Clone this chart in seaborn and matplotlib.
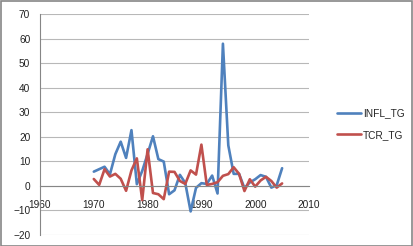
import matplotlib
matplotlib.use("Agg")
import matplotlib.pyplot as plt
import seaborn as sns
import pandas as pd
from matplotlib.patches import Rectangle
from matplotlib.lines import Line2D

years = list(range(1970, 2006))
infl_tg = [5.8, 6.8, 7.8, 4.7, 12.9, 18.0, 11.4, 22.7, 0.7, 6.1,
           13.0, 20.2, 10.9, 9.9, -3.4, -1.8, 4.5, 1.2, -10.4, -0.8,
           1.1, 0.8, 4.2, -3.1, 57.9, 16.5, 4.9, 4.9, -0.9, 1.4,
           2.7, 4.4, 3.7, -0.7, 0.3, 7.2]
tcr_tg = [2.8, 0.4, 6.8, 3.8, 4.9, 2.9, -2.0, 6.3, 11.2, -5.8,
          14.9, -2.9, -3.4, -5.4, 5.8, 5.7, 2.0, 0.8, 6.3, 4.6,
          16.8, 0.4, 0.8, 1.5, 4.1, 4.8, 7.6, 4.9, -2.1, 2.7,
          -0.3, 2.2, 3.7, 2.0, -0.7, 1.0]
series_names = ["INFL_TG", "TCR_TG"]
colors = ["#4F81BD", "#C0504D"]
x_ticks = [1960, 1970, 1980, 1990, 2000, 2010]
y_ticks = [-20, -10, 0, 10, 20, 30, 40, 50, 60, 70]

df = pd.DataFrame({
    "year": years * 2,
    "value": infl_tg + tcr_tg,
    "series": [series_names[0]] * len(years) + [series_names[1]] * len(years),
})

sns.set_style("white")
plt.rcParams["font.family"] = ["Liberation Sans", "DejaVu Sans"]

fig = plt.figure(figsize=(4.13, 2.46), dpi=100)
ax = fig.add_axes([40 / 413, 1 - 235 / 246, 269 / 413, 221 / 246])

sns.lineplot(data=df, x="year", y="value", hue="series", palette=colors,
             linewidth=1.9, ax=ax, legend=False, sort=False)

ax.set_xlim(1960, 2010)
ax.set_ylim(-20, 70)
ax.set_xticks(x_ticks)
ax.set_yticks(y_ticks)
ax.set_xlabel("")
ax.set_ylabel("")
ax.yaxis.grid(True, color="#b8b8b8", linewidth=0.8)
ax.xaxis.grid(False)
ax.set_axisbelow(True)

for s in ["top", "right"]:
    ax.spines[s].set_visible(False)
ax.spines["bottom"].set_position(("data", 0))
ax.spines["bottom"].set_color("#868686")
ax.spines["left"].set_color("#868686")
ax.spines["bottom"].set_linewidth(0.8)
ax.spines["left"].set_linewidth(0.8)
ax.tick_params(axis="both", which="major", labelsize=7.3, colors="#868686",
               labelcolor="#222222", length=4, width=0.8)
ax.tick_params(axis="x", direction="out", pad=6)
ax.tick_params(axis="y", direction="out", pad=3)

# legend
handles = [Line2D([0], [0], color=c, linewidth=1.9) for c in colors]
fig.legend(handles, series_names, loc="center left",
           bbox_to_anchor=(337 / 413, 1 - 124 / 246), frameon=False,
           borderpad=0, borderaxespad=0,
           fontsize=7.3, handlelength=2.4, handletextpad=0.15, labelspacing=1.15)

fig.patches.append(Rectangle((0.5 / 413, 0.5 / 246), 411.5 / 413, 245 / 246,
                             transform=fig.transFigure, fill=False,
                             edgecolor="#868686", linewidth=1.2))

fig.savefig("out.png", dpi=100)
